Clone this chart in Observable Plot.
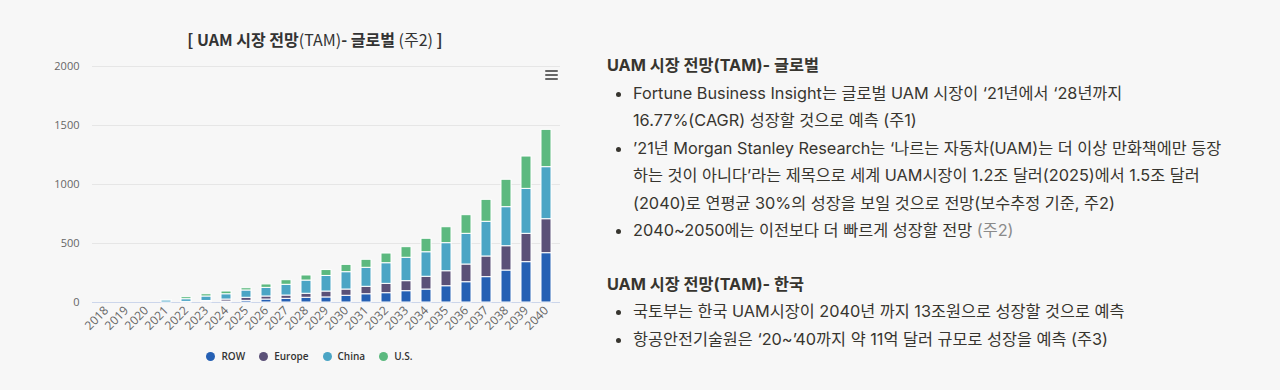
<!DOCTYPE html>
<html>
<head>
<meta charset="utf-8">
<script src="https://cdn.jsdelivr.net/npm/d3@7"></script>
<script src="https://cdn.jsdelivr.net/npm/@observablehq/plot@0.6"></script>
<style>
  html, body { margin: 0; padding: 0; background: #f7f7f7; width: 1280px; height: 390px; overflow: hidden; }
  #wrap { position: relative; width: 1280px; height: 390px; font-family: "Open Sans", "Noto Sans CJK KR", sans-serif; }
  #title { position: absolute; top: 27px; left: 0; width: 630px; text-align: center; font-size: 16px; font-weight: 700; color: #333; font-family: "Noto Sans CJK KR", "Open Sans", sans-serif; }
  #title .l { font-weight: 400; }
  #chart { position: absolute; top: 55px; left: 0; width: 600px; height: 290px; }
  #chart svg { max-width: none !important; }
  #menu { position: absolute; left: 545px; top: 70px; width: 13px; }
  #menu div { height: 2px; background: #666; margin-bottom: 2px; border-radius: 1px; }
  #legend { position: absolute; top: 349px; left: 0; width: 619px; display: flex; justify-content: center; font-size: 10px; font-weight: 600; color: #333; font-family: "Open Sans", sans-serif; }
  #legend .it { display: flex; align-items: center; margin: 0 7px; }
  #legend .dot { width: 9px; height: 9px; border-radius: 50%; margin-right: 6px; }
  #text { position: absolute; left: 607px; top: 52px; font-family: Inter, "Noto Sans CJK KR", sans-serif; font-size: 16.3px; color: #37352f; line-height: 27.5px; white-space: nowrap; }
  #text h3 { margin: 0; font-size: 16.3px; font-weight: 700; line-height: 27.5px; }
  #text ul { margin: 0; padding-left: 26px; }
  #text li { line-height: 27.5px; }
  #text .g { color: #8a8a8a; }
</style>
</head>
<body>
<div id="wrap">
  <div id="title">[ UAM 시장 전망<span class="l">(TAM)</span>- 글로벌 <span class="l">(주2)</span> ]</div>
  <div id="chart"></div>
  <div id="menu"><div></div><div></div><div></div></div>
  <div id="legend"></div>
  <div id="text">
    <h3>UAM 시장 전망(TAM)- 글로벌</h3>
    <ul>
      <li>Fortune Business Insight는 글로벌 UAM 시장이 ‘21년에서 ‘28년까지<br>16.77%(CAGR) 성장할 것으로 예측 (주1)</li>
      <li>’21년 Morgan Stanley Research는 ‘나르는 자동차(UAM)는 더 이상 만화책에만 등장<br>하는 것이 아니다’라는 제목으로 세계 UAM시장이 1.2조 달러(2025)에서 1.5조 달러<br>(2040)로 연평균 30%의 성장을 보일 것으로 전망(보수추정 기준, 주2)</li>
      <li>2040~2050에는 이전보다 더 빠르게 성장할 전망 <span class="g">(주2)</span></li>
    </ul>
    <div style="height:26px"></div>
    <h3>UAM 시장 전망(TAM)- 한국</h3>
    <ul>
      <li>국토부는 한국 UAM시장이 2040년 까지 13조원으로 성장할 것으로 예측</li>
      <li>항공안전기술원은 ‘20~’40까지 약 11억 달러 규모로 성장을 예측 (주3)</li>
    </ul>
  </div>
</div>
<script>
const years = ["2018","2019","2020","2021","2022","2023","2024","2025","2026","2027","2028","2029","2030","2031","2032","2033","2034","2035","2036","2037","2038","2039","2040"];
const series = ["ROW", "Europe", "China", "U.S."];
const colors = ["#2560b4", "#5b5178", "#4ba5c5", "#5cb97f"];
const row    = [0,0,0,0,2,5,8,14,25,31,40,43,57,70,79,96,110,138,172,215,271,342,418];
const europe = [0,0,0,0,3,8,17,26,26,28,34,50,53,63,79,85,108,127,150,175,206,240,288];
const china  = [0,0,0,18,23,38,45,62,73,91,112,132,147,161,175,198,208,238,260,294,331,381,441];
const us     = [0,0,0,2,17,19,23,19,29,39,43,50,62,68,82,90,114,135,158,186,232,274,316];
const yTicks = [0, 500, 1000, 1500, 2000];

const valuesBySeries = [row, europe, china, us];
const data = [];
years.forEach((y, i) => {
  series.forEach((s, j) => data.push({year: y, series: s, value: valuesBySeries[j][i]}));
});

const chart = Plot.plot({
  width: 600,
  height: 290,
  marginLeft: 92,
  marginRight: 40,
  marginTop: 11,
  marginBottom: 43,
  style: {background: "transparent", fontSize: "11px", color: "#666", fontFamily: "'Open Sans', sans-serif"},
  x: {domain: years, paddingInner: 0.5, paddingOuter: 0.25},
  y: {domain: [0, 2000]},
  color: {domain: series, range: colors},
  marks: [
    Plot.ruleY(yTicks.filter(d => d > 0), {stroke: "#e6e6e6", strokeWidth: 1}),
    Plot.ruleY([0], {stroke: "#ccd6eb", strokeWidth: 1}),
    Plot.barY(data, {x: "year", y: "value", fill: "series", order: series, stroke: "#ffffff", strokeWidth: 1}),
    Plot.axisY({ticks: yTicks, tickFormat: d => String(d), tickSize: 0, tickPadding: 13, label: null, fill: "#666", fontSize: 11}),
    Plot.axisX({tickSize: 0, tickPadding: 6, tickRotate: -45, label: null, fill: "#666", fontSize: 12})
  ]
});
document.getElementById("chart").appendChild(chart);

const legend = document.getElementById("legend");
series.forEach((s, i) => {
  const it = document.createElement("div");
  it.className = "it";
  it.innerHTML = `<span class="dot" style="background:${colors[i]}"></span><span>${s}</span>`;
  legend.appendChild(it);
});
</script>
</body>
</html>
